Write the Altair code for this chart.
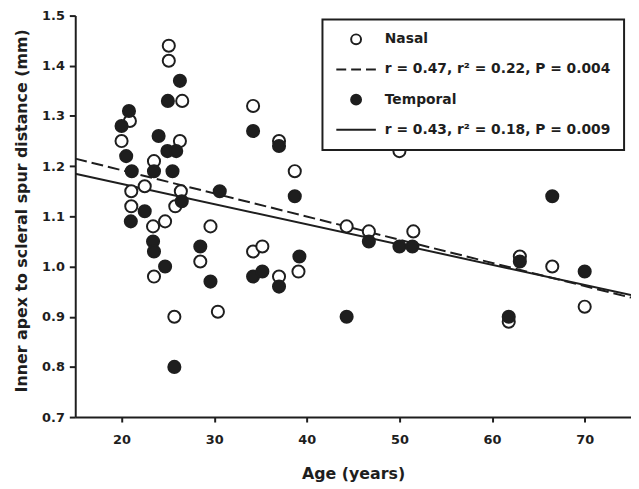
import altair as alt
import pandas as pd

INK = "#1e1e1e"
FONT = "DejaVu Sans"

# ---- data ----
nasal_age = [25.1, 25.1, 26.55, 20.9, 26.3, 20.0, 23.5, 22.5, 21.05, 26.4,
             25.8, 21.05, 24.7, 23.4, 29.6, 28.5, 23.5, 25.7, 30.4, 34.2,
             37.0, 38.7, 34.2, 35.2, 39.1, 37.0, 44.3, 46.7, 50.0, 51.5,
             63.0, 66.5, 70.0, 61.8]
nasal_dist = [1.44, 1.41, 1.33, 1.29, 1.25, 1.25, 1.21, 1.16, 1.15, 1.15,
              1.12, 1.12, 1.09, 1.08, 1.08, 1.01, 0.98, 0.90, 0.91, 1.32,
              1.25, 1.19, 1.03, 1.04, 0.99, 0.98, 1.08, 1.07, 1.23, 1.07,
              1.02, 1.00, 0.92, 0.89]
temporal_age = [26.3, 25.0, 20.8, 20.0, 24.0, 24.95, 25.9, 20.5, 21.1, 23.5,
                25.5, 26.5, 22.5, 21.0, 23.4, 23.5, 28.5, 24.7, 29.6, 25.7,
                34.2, 37.0, 30.6, 38.7, 39.2, 34.2, 35.2, 37.0, 46.7, 50.0,
                51.4, 44.3, 66.5, 63.0, 70.0, 61.8]
temporal_dist = [1.37, 1.33, 1.31, 1.28, 1.26, 1.23, 1.23, 1.22, 1.19, 1.19,
                 1.19, 1.13, 1.11, 1.09, 1.05, 1.03, 1.04, 1.00, 0.97, 0.80,
                 1.27, 1.24, 1.15, 1.14, 1.02, 0.98, 0.99, 0.96, 1.05, 1.04,
                 1.04, 0.90, 1.14, 1.01, 0.99, 0.90]

fit_age = [15, 75]
nasal_fit = [1.215, 0.938]
temporal_fit = [1.185, 0.943]

legend_keys = ["Nasal", "r = 0.47, r² = 0.22, P = 0.004",
               "Temporal", "r = 0.43, r² = 0.18, P = 0.009"]
x_ticks = [20, 30, 40, 50, 60, 70]
y_ticks = [0.7, 0.8, 0.9, 1.0, 1.1, 1.2, 1.3, 1.4, 1.5]

# ---- tables ----
points = pd.concat([
    pd.DataFrame({"age": nasal_age, "dist": nasal_dist, "key": legend_keys[0]}),
    pd.DataFrame({"age": temporal_age, "dist": temporal_dist, "key": legend_keys[2]}),
], ignore_index=True)
points["order"] = range(len(points))

fits = pd.concat([
    pd.DataFrame({"age": fit_age, "dist": nasal_fit, "fit": "nasal"}),
    pd.DataFrame({"age": fit_age, "dist": temporal_fit, "fit": "temporal"}),
], ignore_index=True)

xs = alt.Scale(domain=[15, 75], nice=False, zero=False)
ys = alt.Scale(domain=[0.7, 1.5], nice=False, zero=False)

x_enc = alt.X("age:Q", scale=xs,
              axis=alt.Axis(values=x_ticks, title="Age (years)", format="d"))
y_enc = alt.Y("dist:Q", scale=ys,
              axis=alt.Axis(values=y_ticks, format=".1f", titleY=197,
                            title="Inner apex to scleral spur distance (mm)"))

leg = alt.Legend(
    title=None, orient="none", legendX=250, legendY=4, zindex=2,
    symbolSize=100, symbolStrokeWidth=2, symbolOffset=14,
    labelOffset=22, padding=13, rowPadding=16.5, clipHeight=14,
    strokeColor=INK, fillColor="white",
    labelFont=FONT, labelFontWeight="bold", labelFontSize=14,
    labelColor=INK, labelLimit=400,
)

shapes = ["circle", "M-4,0H-2M-1,0H1M2,0H4", "circle", "M-4,0H4"]

lines_n = alt.Chart(fits).transform_filter(alt.datum.fit == "nasal").mark_line(
    color=INK, strokeWidth=2, strokeDash=[12, 5]
).encode(x=x_enc, y=y_enc)

lines_t = alt.Chart(fits).transform_filter(alt.datum.fit == "temporal").mark_line(
    color=INK, strokeWidth=2
).encode(x=x_enc, y=y_enc)

pts = alt.Chart(points).mark_point(size=150, strokeWidth=2, opacity=1).encode(
    x=x_enc, y=y_enc,
    shape=alt.Shape("key:N", scale=alt.Scale(domain=legend_keys, range=shapes), legend=leg),
    fill=alt.Fill("key:N", scale=alt.Scale(domain=legend_keys,
                  range=["white", "transparent", INK, "transparent"]), legend=leg),
    stroke=alt.Stroke("key:N", scale=alt.Scale(domain=legend_keys,
                      range=[INK, INK, INK, INK]), legend=leg),
    order=alt.Order("order:Q"),
)

chart = alt.layer(lines_n, lines_t, pts).properties(
    width=562, height=406,
    padding={"left": 68, "top": 5, "right": 0, "bottom": 66},
    autosize=alt.AutoSizeParams(type="none"),
).configure_view(stroke=None).configure_axis(
    grid=False, domainColor=INK, domainWidth=2, tickColor=INK, tickWidth=2,
    labelFont=FONT, labelFontWeight="bold", labelFontSize=13, labelColor=INK,
    titleFont=FONT, titleFontWeight="bold", titleFontSize=16, titleColor=INK,
).configure_axisX(
    tickSize=5, labelPadding=12, titlePadding=19,
).configure_axisY(
    tickSize=6, labelPadding=5, titlePadding=12,
).configure_legend(strokeWidth=2)

chart.save("out.html", embed_options={"renderer": "svg", "actions": False})
